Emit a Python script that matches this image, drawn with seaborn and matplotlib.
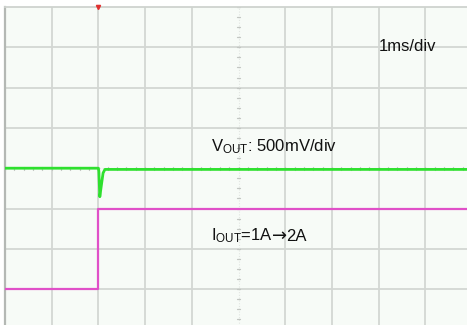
import numpy as np
import pandas as pd
import matplotlib
matplotlib.use("Agg")
import matplotlib.pyplot as plt
import seaborn as sns

# Scope settings
TIME_PER_DIV_MS = 1.0
V_PER_DIV_MV = 500.0
I_PER_DIV_A = 0.5
I_OFFSET_DIV = -5.0          # 0 A sits 5 divisions below centre
TRIGGER_MS = 2.0

# Output voltage deviation (mV) around the load step
vout_t_ms = [0.0, 2.00, 2.01, 2.03, 2.07, 2.10, 2.14, 2.30, 10.0]
vout_mv = [0.0, 0.0, -40.0, -354.0, -184.0, -60.0, -15.0, -15.0, -15.0]

# Load current (A): 1 A -> 2 A step
iout_t_ms = [0.0, 2.0, 2.0, 10.0]
iout_a = [1.0, 1.0, 2.0, 2.0]

label_timebase = "1ms/div"
label_vout = r"V$_{\mathrm{OUT}}$: 500mV/div"
label_iout = [r"I$_{\mathrm{OUT}}$=1A", "→", "2A"]

sns.set_style("white")
plt.rcParams["font.family"] = ["Liberation Sans", "DejaVu Sans"]
plt.rcParams["mathtext.fontset"] = "custom"
plt.rcParams["mathtext.rm"] = "Liberation Sans"
plt.rcParams["mathtext.it"] = "Liberation Sans"

W, H = 467, 325
fig = plt.figure(figsize=(W / 100, H / 100), dpi=100)
fig.patch.set_facecolor("white")

# Graticule: 10 x 8 divisions, partly beyond the right/bottom edge
div_w, div_h = 46.7, 40.3
left_px, top_px = 5.0, 7.0
ax = fig.add_axes([left_px / W, (H - top_px - 8 * div_h) / H,
                   10 * div_w / W, 8 * div_h / H])
ax.set_facecolor("#f7fbf7")
ax.set_xlim(0, 10)
ax.set_ylim(-4, 4)

grid_c = "#d3d7d3"
for x in range(1, 10):
    if x == 5:
        continue
    ax.axvline(x, color=grid_c, lw=1.3, zorder=1)
for y in range(-3, 4):
    if y == 0:
        continue
    ax.axhline(y, color=grid_c, lw=1.3, zorder=1)

# centre axes with minor ticks
ax.axvline(5, color="#e2e6e2", lw=0.8, ls=(0, (1, 1.5)), zorder=1)
ax.axhline(0, color="#e2e6e2", lw=0.8, ls=(0, (1, 1.5)), zorder=1)
for yy in np.arange(-4, 4.01, 0.25):
    ax.plot([4.97, 5.03], [yy, yy], color="#c2c6c2", lw=0.9, zorder=1)
for xx in np.arange(0, 10.01, 0.2):
    ax.plot([xx, xx], [-0.04, 0.04], color="#c2c6c2", lw=0.9, zorder=1)

for side in ["right", "bottom"]:
    ax.spines[side].set_visible(False)
ax.spines["left"].set_color("#b4b8b4")
ax.spines["left"].set_linewidth(1.6)
ax.spines["top"].set_color("#cfd3cf")
ax.spines["top"].set_linewidth(1.3)
ax.set_xticks([])
ax.set_yticks([])

# Traces converted to screen divisions
df_v = pd.DataFrame({
    "t": np.array(vout_t_ms) / TIME_PER_DIV_MS,
    "div": np.array(vout_mv) / V_PER_DIV_MV,
})
df_i = pd.DataFrame({
    "t": np.array(iout_t_ms) / TIME_PER_DIV_MS,
    "div": np.array(iout_a) / I_PER_DIV_A + I_OFFSET_DIV,
})
sns.lineplot(data=df_i, x="t", y="div", ax=ax, color="#e050c8", lw=1.6,
             sort=False, estimator=None, zorder=3)
sns.lineplot(data=df_v, x="t", y="div", ax=ax, color="#2ee02e", lw=2.0,
             sort=False, estimator=None, zorder=4)
ax.set_xlabel("")
ax.set_ylabel("")

# trigger marker
ax.plot([TRIGGER_MS / TIME_PER_DIV_MS], [4.0], marker="v", ms=3,
        color="#e03030", clip_on=False, zorder=5)

txt_kw = dict(fontsize=12, color="#111111", ha="left", va="baseline")
ax.text(8.0, 2.92, label_timebase, **txt_kw)
ax.text(4.41, 0.41, label_vout, **txt_kw)

# current label built piecewise so the arrow uses a full-width glyph
fig.canvas.draw()
renderer = fig.canvas.get_renderer()
x_cur = 4.41
for k, part in enumerate(label_iout):
    kw = dict(txt_kw)
    if part == "→":
        kw["family"] = "DejaVu Sans"
        kw["fontsize"] = 13
    t = ax.text(x_cur, -1.80, part, **kw)
    bb = t.get_window_extent(renderer)
    x_cur = ax.transData.inverted().transform((bb.x1 - 1.0, 0))[0]

fig.savefig("out.png", dpi=100, facecolor="white")
